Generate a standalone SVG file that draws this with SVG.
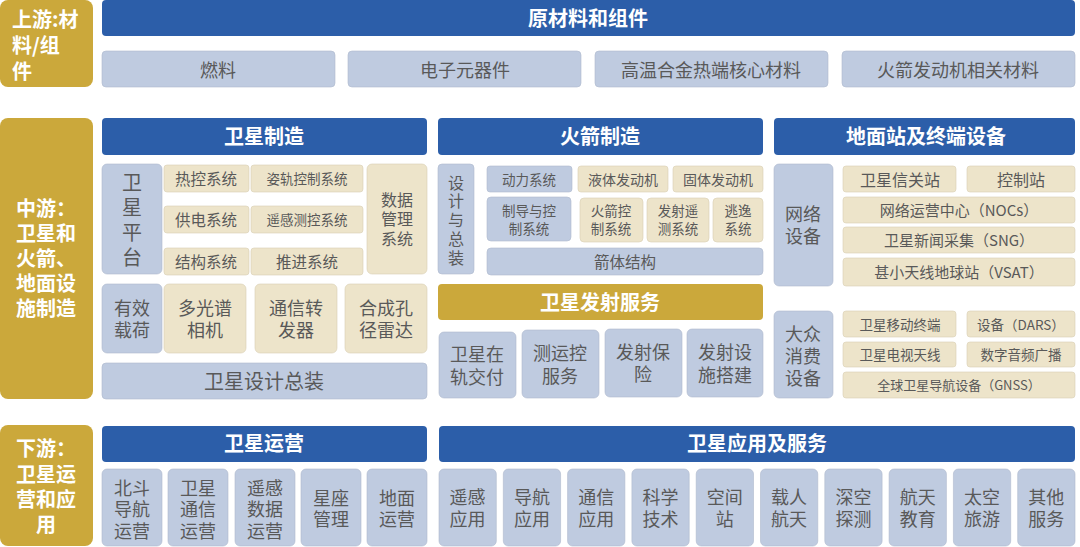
<svg xmlns="http://www.w3.org/2000/svg" width="1080" height="547" viewBox="0 0 1080 547">
<style>
.hd{fill:#2C5EA9}
.gd{fill:#CBA83B}
.bl{fill:#BFCBE0;stroke:#AEB9CC;stroke-width:0.6}
.bg{fill:#EDE4CA;stroke:#D8CFB4;stroke-width:0.6}
text{font-family:"Noto Sans CJK SC","Noto Sans",sans-serif;dominant-baseline:central}
.ht{fill:#FFFFFF;font-weight:bold;font-size:20px;text-anchor:middle}
.gt{fill:#FFFFFF;font-weight:bold;font-size:20px}
.t{fill:#595959;text-anchor:middle}
.s13{font-size:13px}.s135{font-size:13.5px}.s14{font-size:14px}.s15{font-size:15px}.s155{font-size:15.5px}.s16{font-size:16px}.s18{font-size:18px}.s20{font-size:20px}
</style>

<!-- Upstream -->
<g id="upstream-label"><rect class="gd" x="0" y="0" width="93" height="87" rx="8"/>
<text class="gt" x="12" y="18">上游:材<tspan x="12" dy="26">料/组</tspan><tspan x="12" dy="26">件</tspan></text></g>
<g id="raw-materials"><rect class="hd" x="102" y="0" width="973" height="36" rx="4"/><text class="ht" x="588" y="17.5">原材料和组件</text></g>
<g id="fuel"><rect class="bl" x="102" y="51" width="233" height="36" rx="4"/><text class="t s18" x="218" y="68.5">燃料</text></g>
<g id="electronics"><rect class="bl" x="348" y="51" width="233" height="36" rx="4"/><text class="t s18" x="465" y="68.5">电子元器件</text></g>
<g id="alloy"><rect class="bl" x="595" y="51" width="233" height="36" rx="4"/><text class="t s18" x="711" y="68.5">高温合金热端核心材料</text></g>
<g id="engine-materials"><rect class="bl" x="842" y="51" width="233" height="36" rx="4"/><text class="t s18" x="958" y="68.5">火箭发动机相关材料</text></g>

<!-- Midstream -->
<g id="midstream-label"><rect class="gd" x="0" y="118" width="93" height="281" rx="8"/>
<text class="gt" x="16" y="207">中游：<tspan x="16" dy="25">卫星和</tspan><tspan x="16" dy="25">火箭、</tspan><tspan x="16" dy="25">地面设</tspan><tspan x="16" dy="24.5">施制造</tspan></text></g>

<g id="sat-mfg"><rect class="hd" x="102" y="118" width="325" height="37" rx="4"/><text class="ht" x="264" y="135.5">卫星制造</text></g>
<g id="sat-platform"><rect class="bl" x="102" y="164" width="60" height="110" rx="5"/>
<text class="t s20" x="132" y="181.5">卫<tspan x="132" dy="24.5">星</tspan><tspan x="132" dy="24.5">平</tspan><tspan x="132" dy="25">台</tspan></text></g>
<g id="thermal"><rect class="bg" x="164" y="165" width="85" height="27" rx="3"/><text class="t s155" x="206" y="177.5">热控系统</text></g>
<g id="attitude"><rect class="bg" x="251" y="165" width="112" height="27" rx="3"/><text class="t s135" x="307" y="177.5">姿轨控制系统</text></g>
<g id="power"><rect class="bg" x="164" y="206" width="85" height="27" rx="3"/><text class="t s155" x="206" y="218.5">供电系统</text></g>
<g id="ttc"><rect class="bg" x="251" y="206" width="112" height="27" rx="3"/><text class="t s135" x="307" y="218.5">遥感测控系统</text></g>
<g id="structure"><rect class="bg" x="164" y="248" width="85" height="27" rx="3"/><text class="t s155" x="206" y="260.5">结构系统</text></g>
<g id="propulsion"><rect class="bg" x="251" y="248" width="112" height="27" rx="3"/><text class="t s155" x="307" y="260.5">推进系统</text></g>
<g id="data-mgmt"><rect class="bg" x="367" y="164" width="60" height="110" rx="5"/>
<text class="t s16" x="397" y="198.5">数据<tspan x="397" dy="19.5">管理</tspan><tspan x="397" dy="19.5">系统</tspan></text></g>
<g id="payload"><rect class="bl" x="102" y="284" width="60" height="69" rx="5"/>
<text class="t s18" x="132" y="306.5">有效<tspan x="132" dy="22">载荷</tspan></text></g>
<g id="camera"><rect class="bg" x="164" y="284" width="82" height="69" rx="5"/>
<text class="t s18" x="205" y="306.5">多光谱<tspan x="205" dy="22">相机</tspan></text></g>
<g id="transponder"><rect class="bg" x="255" y="284" width="82" height="69" rx="5"/>
<text class="t s18" x="296" y="306.5">通信转<tspan x="296" dy="22">发器</tspan></text></g>
<g id="sar"><rect class="bg" x="345" y="284" width="82" height="69" rx="5"/>
<text class="t s18" x="386" y="306.5">合成孔<tspan x="386" dy="22">径雷达</tspan></text></g>
<g id="sat-assembly"><rect class="bl" x="102" y="363" width="325" height="36" rx="4"/><text class="t s20" x="264" y="380.5">卫星设计总装</text></g>

<g id="rocket-mfg"><rect class="hd" x="438" y="118" width="325" height="37" rx="4"/><text class="ht" x="600" y="135.5">火箭制造</text></g>
<g id="rocket-assembly"><rect class="bl" x="438" y="164" width="36" height="110" rx="4"/>
<text class="t s16" x="456" y="181.5">设<tspan x="456" dy="18.8">计</tspan><tspan x="456" dy="18.8">与</tspan><tspan x="456" dy="18.8">总</tspan><tspan x="456" dy="18.8">装</tspan></text></g>
<g id="power-sys"><rect class="bl" x="487" y="166" width="85" height="26" rx="3"/><text class="t s135" x="529" y="178.5">动力系统</text></g>
<g id="liquid"><rect class="bg" x="578" y="166" width="90" height="26" rx="3"/><text class="t s14" x="623" y="178.5">液体发动机</text></g>
<g id="solid"><rect class="bg" x="673" y="166" width="90" height="26" rx="3"/><text class="t s14" x="718" y="178.5">固体发动机</text></g>
<g id="gnc"><rect class="bl" x="487" y="197" width="84" height="44" rx="4"/>
<text class="t s135" x="529" y="209.5">制导与控<tspan x="529" dy="18">制系统</tspan></text></g>
<g id="rocket-ctrl"><rect class="bg" x="580" y="198" width="63" height="44" rx="4"/>
<text class="t s135" x="611" y="209.5">火箭控<tspan x="611" dy="18">制系统</tspan></text></g>
<g id="telemetry"><rect class="bg" x="647" y="198" width="62" height="44" rx="4"/>
<text class="t s135" x="678" y="209.5">发射遥<tspan x="678" dy="18">测系统</tspan></text></g>
<g id="escape"><rect class="bg" x="713" y="198" width="50" height="44" rx="4"/>
<text class="t s135" x="738" y="209.5">逃逸<tspan x="738" dy="18">系统</tspan></text></g>
<g id="rocket-body"><rect class="bl" x="487" y="248" width="276" height="27" rx="4"/><text class="t s155" x="625" y="260.5">箭体结构</text></g>

<g id="launch-service"><rect class="gd" x="438" y="284" width="325" height="36" rx="4"/><text class="ht" x="600" y="301.5">卫星发射服务</text></g>
<g id="orbit-delivery"><rect class="bl" x="439" y="332" width="77" height="66" rx="5"/>
<text class="t s18" x="477" y="352.5">卫星在<tspan x="477" dy="23">轨交付</tspan></text></g>
<g id="tt-c-service"><rect class="bl" x="522" y="330" width="77" height="68" rx="5"/>
<text class="t s18" x="560" y="351.5">测运控<tspan x="560" dy="23">服务</tspan></text></g>
<g id="launch-insurance"><rect class="bl" x="605" y="329" width="77" height="68" rx="5"/>
<text class="t s18" x="643" y="350.5">发射保<tspan x="643" dy="22.5">险</tspan></text></g>
<g id="launch-facility"><rect class="bl" x="687" y="329" width="76" height="68" rx="5"/>
<text class="t s18" x="725" y="350.5">发射设<tspan x="725" dy="23">施搭建</tspan></text></g>

<g id="ground-equip"><rect class="hd" x="774" y="118" width="301" height="37" rx="4"/><text class="ht" x="926" y="135.5">地面站及终端设备</text></g>
<g id="network-equip"><rect class="bl" x="774" y="164" width="59" height="122" rx="5"/>
<text class="t s18" x="803" y="212.5">网络<tspan x="803" dy="22">设备</tspan></text></g>
<g id="gateway"><rect class="bg" x="843" y="166" width="113" height="26" rx="3"/><text class="t s16" x="900" y="178.5">卫星信关站</text></g>
<g id="control-station"><rect class="bg" x="967" y="166" width="108" height="26" rx="3"/><text class="t s16" x="1021" y="178.5">控制站</text></g>
<g id="noc"><rect class="bg" x="843" y="197" width="232" height="26" rx="3"/><text class="t s15" x="959" y="209.5">网络运营中心（NOCs）</text></g>
<g id="sng"><rect class="bg" x="843" y="227" width="232" height="26" rx="3"/><text class="t s15" x="959" y="239.5">卫星新闻采集（SNG）</text></g>
<g id="vsat"><rect class="bg" x="843" y="258" width="232" height="28" rx="3"/><text class="t s15" x="959" y="271.5">甚小天线地球站（VSAT）</text></g>
<g id="consumer-equip"><rect class="bl" x="774" y="311" width="59" height="87" rx="5"/>
<text class="t s18" x="803" y="332.5">大众<tspan x="803" dy="22">消费</tspan><tspan x="803" dy="22">设备</tspan></text></g>
<g id="mobile-terminal"><rect class="bg" x="843" y="311" width="113" height="26" rx="3"/><text class="t s135" x="900" y="323.5">卫星移动终端</text></g>
<g id="dars"><rect class="bg" x="967" y="311" width="108" height="26" rx="3"/><text class="t s135" x="1021" y="323.5">设备（DARS）</text></g>
<g id="tv-antenna"><rect class="bg" x="843" y="342" width="113" height="25" rx="3"/><text class="t s135" x="900" y="353.5">卫星电视天线</text></g>
<g id="audio-broadcast"><rect class="bg" x="967" y="342" width="108" height="25" rx="3"/><text class="t s135" x="1021" y="353.5">数字音频广播</text></g>
<g id="gnss"><rect class="bg" x="843" y="372" width="232" height="26" rx="3"/><text class="t s13" x="959" y="384.5">全球卫星导航设备（GNSS）</text></g>

<!-- Downstream -->
<g id="downstream-label"><rect class="gd" x="0" y="425" width="93" height="121" rx="8"/>
<text class="gt" x="46" y="447.5" text-anchor="middle">下游：<tspan x="46" dy="25">卫星运</tspan><tspan x="46" dy="25">营和应</tspan><tspan x="46" dy="25">用</tspan></text></g>

<g id="sat-ops"><rect class="hd" x="102" y="426" width="325" height="36" rx="4"/><text class="ht" x="264" y="442.5">卫星运营</text></g>
<g id="beidou-ops"><rect class="bl" x="102" y="469" width="60" height="77" rx="5"/>
<text class="t s18" x="132" y="486.5">北斗<tspan x="132" dy="21.5">导航</tspan><tspan x="132" dy="21.5">运营</tspan></text></g>
<g id="comm-ops"><rect class="bl" x="168" y="469" width="60" height="77" rx="5"/>
<text class="t s18" x="198" y="486.5">卫星<tspan x="198" dy="21.5">通信</tspan><tspan x="198" dy="21.5">运营</tspan></text></g>
<g id="rs-ops"><rect class="bl" x="235" y="469" width="60" height="77" rx="5"/>
<text class="t s18" x="265" y="486.5">遥感<tspan x="265" dy="21.5">数据</tspan><tspan x="265" dy="21.5">运营</tspan></text></g>
<g id="constellation"><rect class="bl" x="301" y="469" width="60" height="77" rx="5"/>
<text class="t s18" x="331" y="496.5">星座<tspan x="331" dy="21.5">管理</tspan></text></g>
<g id="ground-ops"><rect class="bl" x="367" y="469" width="60" height="77" rx="5"/>
<text class="t s18" x="397" y="496.5">地面<tspan x="397" dy="21.5">运营</tspan></text></g>

<g id="sat-apps"><rect class="hd" x="439" y="426" width="636" height="36" rx="4"/><text class="ht" x="757" y="442.5">卫星应用及服务</text></g>
<g id="app-rs"><rect class="bl" x="439" y="469" width="57.3" height="77" rx="5"/><text class="t s18" x="467.6" y="495.5">遥感<tspan x="467.6" dy="22">应用</tspan></text></g>
<g id="app-nav"><rect class="bl" x="503.3" y="469" width="57.3" height="77" rx="5"/><text class="t s18" x="531.9" y="495.5">导航<tspan x="531.9" dy="22">应用</tspan></text></g>
<g id="app-comm"><rect class="bl" x="567.6" y="469" width="57.3" height="77" rx="5"/><text class="t s18" x="596.2" y="495.5">通信<tspan x="596.2" dy="22">应用</tspan></text></g>
<g id="app-sci"><rect class="bl" x="631.9" y="469" width="57.3" height="77" rx="5"/><text class="t s18" x="660.5" y="495.5">科学<tspan x="660.5" dy="22">技术</tspan></text></g>
<g id="app-station"><rect class="bl" x="696.2" y="469" width="57.3" height="77" rx="5"/><text class="t s18" x="724.8" y="495.5">空间<tspan x="724.8" dy="22">站</tspan></text></g>
<g id="app-manned"><rect class="bl" x="760.5" y="469" width="57.3" height="77" rx="5"/><text class="t s18" x="789.1" y="495.5">载人<tspan x="789.1" dy="22">航天</tspan></text></g>
<g id="app-deep"><rect class="bl" x="824.8" y="469" width="57.3" height="77" rx="5"/><text class="t s18" x="853.4" y="495.5">深空<tspan x="853.4" dy="22">探测</tspan></text></g>
<g id="app-edu"><rect class="bl" x="889.1" y="469" width="57.3" height="77" rx="5"/><text class="t s18" x="917.7" y="495.5">航天<tspan x="917.7" dy="22">教育</tspan></text></g>
<g id="app-tour"><rect class="bl" x="953.4" y="469" width="57.3" height="77" rx="5"/><text class="t s18" x="982" y="495.5">太空<tspan x="982" dy="22">旅游</tspan></text></g>
<g id="app-other"><rect class="bl" x="1017.7" y="469" width="57.3" height="77" rx="5"/><text class="t s18" x="1046.3" y="495.5">其他<tspan x="1046.3" dy="22">服务</tspan></text></g>

<g id="connectors"></g>
</svg>
